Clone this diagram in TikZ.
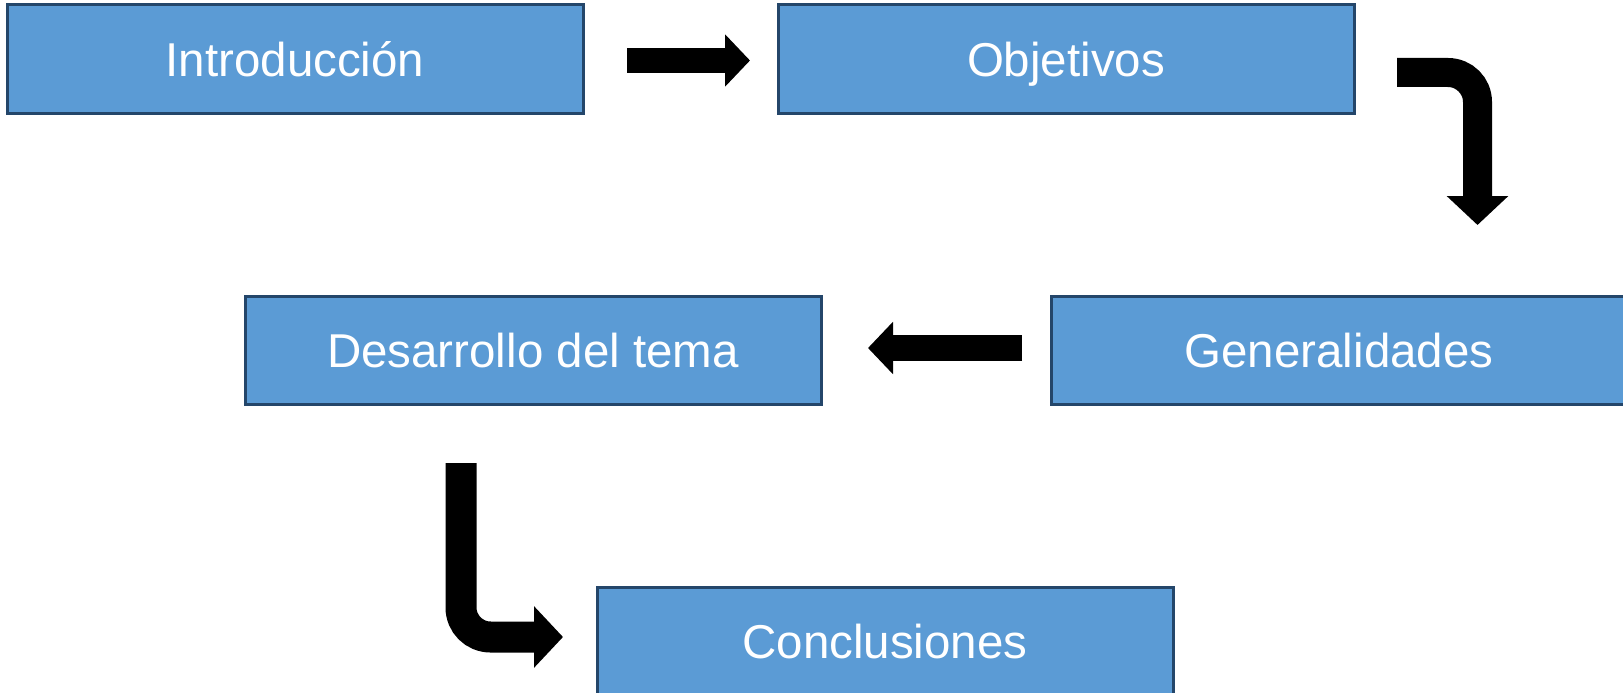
\documentclass[tikz,border=0pt]{standalone}
\usepackage{fontspec}
\setmainfont{Liberation Sans}
\usetikzlibrary{arrows.meta}
\definecolor{azul}{HTML}{5B9BD5}
\definecolor{borde}{HTML}{24466A}
\begin{document}
\begin{tikzpicture}[x=1pt,y=-1pt,line cap=butt,
		caja/.style={draw=borde,line width=3pt,fill=azul,text=white,
			minimum width=576pt,minimum height=108pt,inner sep=0pt,outer sep=0pt,
			text height=35.5pt,text depth=0pt,font=\fontsize{47.5}{56}\selectfont},
		flecha/.style={line width=25pt,-{Triangle[length=25pt,width=51pt]}},
		curva/.style={line width=29pt,rounded corners=29.5pt,-{Triangle[length=29pt,width=60pt]}}]
		\useasboundingbox (0,0) rectangle (1623,693);
		\foreach \X/\Y/\N/\T in {295/59/intro/Introducción,1066/59/obj/Objetivos,
			1339/350/gen/Generalidades,533/350/des/Desarrollo del tema,885/641/conc/Conclusiones}
		{\path (\X,\Y) node[caja](\N){\T};}
		%\draw[help lines] (0,0) grid[step=100pt] (1623,693);
		\draw[flecha,shorten <=44pt,shorten >=28pt] ([yshift=-1.5pt]intro.east) -- ([yshift=-1.5pt]obj.west);
		\draw[curva,shorten <=43pt,shorten >=71pt] ([yshift=-13.5pt]obj.east) -| ([xshift=-149.5pt]gen.north east);
		\draw[flecha,line width=26pt,shorten <=29pt,shorten >=47pt] ([yshift=2pt]gen.west) -- ([yshift=2pt]des.east);
		\draw[curva,line width=31pt,shorten <=59pt,shorten >=34pt] ([xshift=-72pt]des.south) |- ([yshift=4pt]conc.west);
\end{tikzpicture}
\end{document}
